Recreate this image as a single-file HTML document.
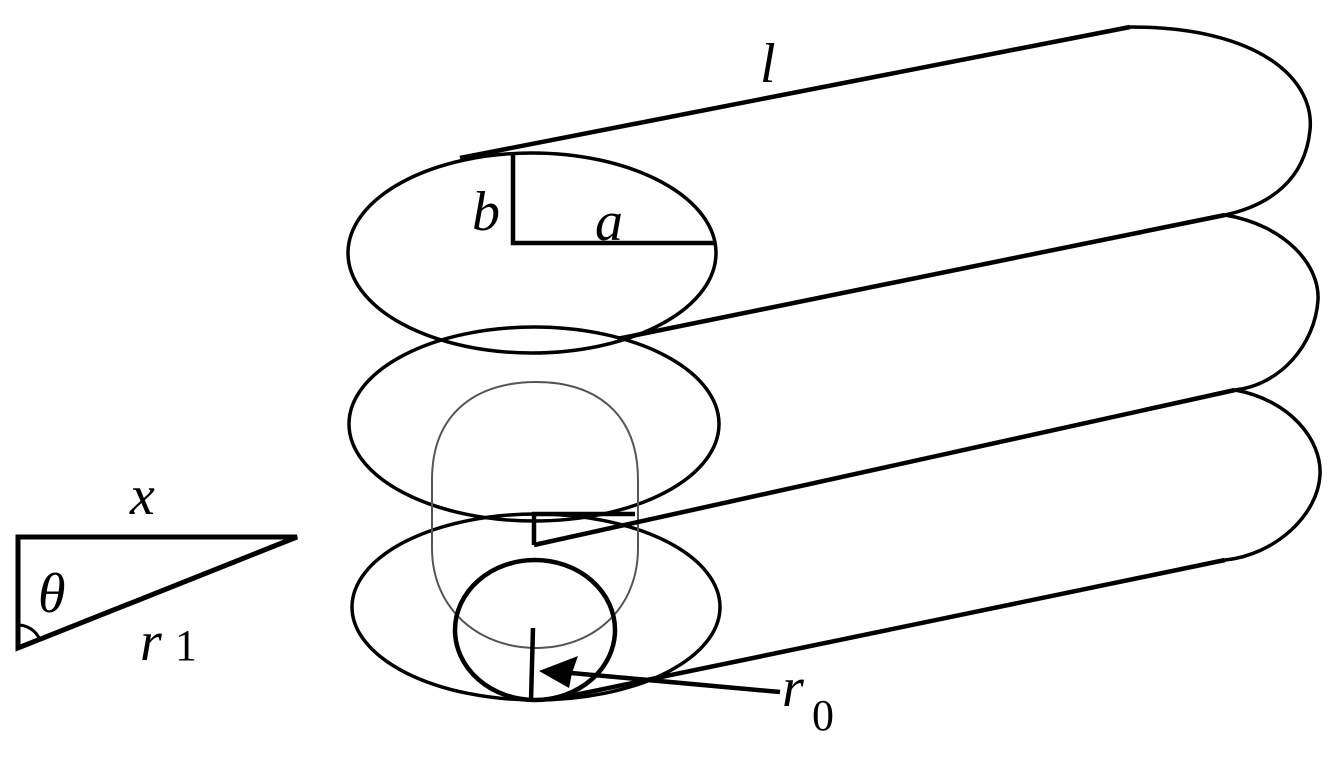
<!DOCTYPE html>
<html><head><style>body{margin:0;background:#fff}svg{display:block}text{font-family:"Liberation Serif",serif;fill:#000}</style></head>
<body>
<svg width="1342" height="764" viewBox="0 0 1342 764" xmlns="http://www.w3.org/2000/svg">
<g fill="none" stroke="#000" stroke-width="3.5">
<ellipse cx="532" cy="253" rx="184" ry="100"/>
<ellipse cx="534" cy="424" rx="185" ry="97"/>
<ellipse cx="536" cy="607" rx="184" ry="93"/>
<path d="M1130 27 C1260 27 1315 80 1310 130 C1305 180 1270 205 1225 215"/>
<path d="M1225 215 C1285 225 1320 265 1318 300 C1315 345 1280 385 1235 390"/>
<path d="M1235 390 C1290 400 1322 440 1320 475 C1318 515 1275 555 1225 560"/>
</g>
<path d="M432 480 C432 410 480 382 536 382 C592 382 638 410 638 480 L638 548 C638 610 592 648 536 648 C480 648 432 610 432 548 Z" fill="none" stroke="#555" stroke-width="2"/>
<g fill="none" stroke="#000" stroke-width="4.5">
<line x1="460" y1="158" x2="1130" y2="27"/>
<line x1="617" y1="339" x2="1225" y2="215"/>
<path d="M534 545 L534 514 L635 514"/>
<line x1="534" y1="545" x2="1235" y2="390"/>
<line x1="565" y1="697" x2="1225" y2="560"/>
<path d="M513 153 L513 243 L715 243"/>
<ellipse cx="535" cy="630" rx="80" ry="70"/>
<line x1="533" y1="628" x2="531" y2="701"/>
<line x1="780" y1="692" x2="560" y2="672"/>
<path d="M18 537 L297 537 L18 648 Z" stroke-width="5"/>
<path d="M18 625 A24 24 0 0 1 40 640" stroke-width="3"/>
</g>
<path d="M539 671 L578 656 L572 673 L569 688 Z" fill="#000"/>
<g style="font-style:italic">
<text x="760" y="82" font-size="56">l</text>
<text x="472" y="230" font-size="56">b</text>
<text x="595" y="240" font-size="56">a</text>
<text x="130" y="514" font-size="56">x</text>
<text x="38" y="612" font-size="56">θ</text>
<text x="140" y="660" font-size="56">r</text>
<text x="782" y="706" font-size="56">r</text>
</g>
<text x="175" y="660" font-size="44" style="font-style:normal">1</text>
<text x="812" y="730" font-size="44" style="font-style:normal">0</text>
</svg>
</body></html>
